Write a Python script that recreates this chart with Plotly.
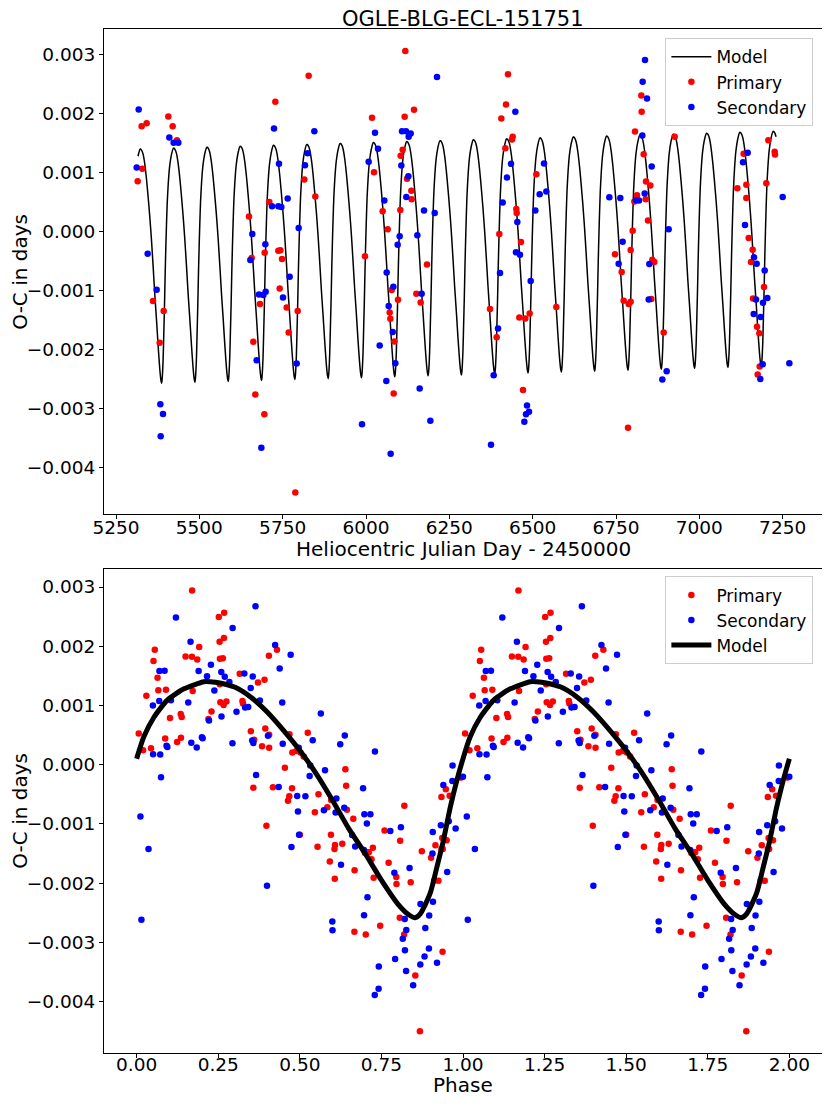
import numpy as np
import plotly.graph_objects as go

prim_hjd = [5327, 5342, 5329, 5315, 5361, 5393, 5381, 5407, 5420, 5433, 5649, 5657, 5696, 5682,
            5662, 5668, 5695, 5728, 5710, 5737, 5743, 5748, 5741, 5762, 5768, 5788, 5795, 5815,
            5828, 5848, 5997, 6018, 6024, 6050, 6065, 6071, 6073, 6077, 6085, 6083, 6096, 6103,
            6104, 6110, 6116, 6118, 6123, 6136, 6137, 6144, 6151, 6164, 6183, 6372, 6392, 6400,
            6406, 6418, 6420, 6426, 6438, 6440, 6451, 6452, 6465, 6460, 6471, 6478, 6491, 6511,
            6571, 6826, 6827, 6807, 6833, 6840, 6853, 6813, 6805, 6839, 6846, 6800, 6794, 6747,
            6767, 6773, 6788, 6794, 6859, 6865, 6856, 6893, 6786, 6926, 7133, 7114, 7141, 7141,
            7148, 7160, 7155, 7161, 7173, 7180, 7181, 7175, 7194, 7201, 7207, 7226, 7227]
prim_oc = [1.791, 1.842, 1.066, 0.856, -1.179, -1.349, -1.888, 1.956, 1.791, 1.553, 0.255, -0.448,
           -0.357, -1.230, -1.871, -2.766, -3.101, 2.205, 0.505, -0.323, -0.317, -0.465, -0.964,
           -1.287, -1.712, -4.427, -1.349, 0.884, 2.647, 0.595, -0.420, 1.933, 1.009, 0.346, 0.040,
           -1.372, -1.480, -0.992, -1.865, -2.749, -1.156, 0.368, 1.287, 1.389, 1.950, 3.067, 0.896,
           0.692, 0.550, 2.069, -1.054, -1.202, -0.556, -1.315, -1.791, -0.040, 1.922, 1.417, 2.160,
           2.670, 1.565, 1.610, 0.385, 0.317, -0.176, -1.457, -2.687, -1.474, -1.389, 0.975, -1.281,
           2.313, 2.035, 1.701, 1.315, 0.850, 0.782, 0.618, 0.510, 0.550, 0.187, 0.017, -0.312,
           -0.385, -0.686, -1.173, -1.230, -1.190, -0.476, -0.516, -1.145, -1.712, -3.328, 1.610,
           1.321, 0.737, 0.794, 0.573, -0.108, -0.306, -0.516, -1.134, -1.616, -1.723, -2.290,
           -2.426, -0.941, 0.822, 1.553, 1.355, 1.310]

sec_hjd = [5318, 5312, 5345, 5372, 5383, 5391, 5384, 5410, 5423, 5437, 5659, 5653, 5698, 5679,
           5692, 5699, 5672, 5686, 5724, 5739, 5718, 5737, 5746, 5765, 5771, 5751, 5798, 5792,
           5817, 5825, 5845, 5988, 6008, 6027, 6036, 6055, 6041, 6062, 6061, 6068, 6074, 6080,
           6082, 6088, 6095, 6101, 6106, 6108, 6120, 6121, 6127, 6128, 6134, 6154, 6161, 6167,
           6174, 6193, 6206, 6213, 6375, 6383, 6396, 6402, 6410, 6423, 6435, 6448, 6454, 6450,
           6462, 6475, 6480, 6483, 6489, 6494, 6508, 6521, 6534, 6541, 6837, 6830, 6843, 6829,
           6857, 6836, 6810, 6819, 6730, 6763, 6770, 6758, 6850, 6848, 6908, 6902, 6889, 7145,
           7131, 7137, 7164, 7172, 7196, 7170, 7204, 7191, 7163, 7184, 7190, 7183, 7250, 7270]
sec_oc = [2.075, 1.088, -0.374, -0.986, -2.931, -3.095, -3.475, 1.599, 1.508, 1.508, -0.040, -0.482,
          -0.215, -1.066, -1.077, -1.020, -2.183, -3.668, 1.752, 1.151, 0.431, 0.431, 0.419, 0.561,
          -0.765, -1.117, 0.062, -2.239, 1.128, 1.332, 1.706, -3.271, 1.185, 1.678, 1.406, 0.527,
          -1.933, -0.692, -2.534, -1.264, -3.770, -1.706, -0.935, -2.234, -0.221, -0.079, 1.122,
          1.706, 1.706, 0.590, 0.941, 1.610, 1.667, -0.062, -2.664, -1.054, 0.357, -3.209, 0.317,
          2.625, -3.617, -2.438, -1.644, -0.703, 0.493, 0.918, 1.151, 2.035, 0.164, -0.351, -0.391,
          -3.226, -3.101, -2.953, -3.056, -0.839, 0.357, 0.635, 1.156, 0.680, 2.914, 2.545, 2.262,
          1.633, 1.105, 0.646, 0.533, 0.527, 0.584, 0.573, -0.170, -0.544, -0.550, -1.151, 0.040,
          -2.370, -2.511, 1.338, 1.179, 0.113, -0.437, -0.544, -0.658, -1.151, -1.128, -1.207,
          -1.400, -1.451, -2.251, -2.500, 0.590, -2.234]

# model shape over one cycle (0.001 d)
model_phase = [0.000, 0.022, 0.053, 0.094, 0.145, 0.206, 0.225, 0.255, 0.300, 0.350, 0.400, 0.450,
               0.500, 0.550, 0.600, 0.650, 0.700, 0.750, 0.800, 0.835, 0.853, 0.869, 0.899, 0.920,
               0.940, 0.961, 0.981]
model_oc = [0.10, 0.47, 0.80, 1.09, 1.28, 1.40, 1.40, 1.38, 1.31, 1.14, 0.89, 0.58,
            0.24, -0.15, -0.60, -1.08, -1.50, -1.95, -2.35, -2.54, -2.585, -2.52, -2.18, -1.73,
            -1.28, -0.72, -0.27]

# ephemeris and slow drift
T0 = 5301.5
PERIOD = 99.94
DRIFT = 0.000158      # 0.001 d per day
T_DRIFT = 5320.0
T_START, T_END = 5315, 7231

FONT = "DejaVu Sans"


def drift(t):
    return DRIFT * (np.asarray(t, float) - T_DRIFT)


def fold(t):
    return ((np.asarray(t, float) - T0) / PERIOD) % 1.0


mph = np.array(model_phase + [1.0])
moc = np.array(model_oc + [model_oc[0]])

# model over the time series
cyc = np.arange(-1, 21)
t_mod = (T0 + (cyc[:, None] + mph[None, :-1]) * PERIOD).ravel()
v_mod = np.tile(moc[:-1], len(cyc)) + drift(t_mod)
keep = (t_mod >= T_START) & (t_mod <= T_END)
t_mod, v_mod = t_mod[keep], v_mod[keep]

# phase-folded, drift removed
p_ph = fold(prim_hjd)
p_v = np.array(prim_oc) - drift(prim_hjd)
s_ph = fold(sec_hjd)
s_v = np.array(sec_oc) - drift(sec_hjd)

fig = go.Figure()

fig.add_trace(go.Scatter(x=t_mod, y=v_mod * 1e-3, mode="lines", name="Model",
                         line=dict(color="black", width=1.5, shape="spline", smoothing=0.6),
                         xaxis="x", yaxis="y", legend="legend"))
fig.add_trace(go.Scatter(x=prim_hjd, y=np.array(prim_oc) * 1e-3, mode="markers", name="Primary",
                         marker=dict(color="red", size=6.5), xaxis="x", yaxis="y", legend="legend"))
fig.add_trace(go.Scatter(x=sec_hjd, y=np.array(sec_oc) * 1e-3, mode="markers", name="Secondary",
                         marker=dict(color="blue", size=6.5), xaxis="x", yaxis="y", legend="legend"))

fig.add_trace(go.Scatter(x=np.concatenate([p_ph, p_ph + 1]), y=np.concatenate([p_v, p_v]) * 1e-3,
                         mode="markers", name="Primary", marker=dict(color="red", size=6.5),
                         xaxis="x2", yaxis="y2", legend="legend2"))
fig.add_trace(go.Scatter(x=np.concatenate([s_ph, s_ph + 1]), y=np.concatenate([s_v, s_v]) * 1e-3,
                         mode="markers", name="Secondary", marker=dict(color="blue", size=6.5),
                         xaxis="x2", yaxis="y2", legend="legend2"))
fig.add_trace(go.Scatter(x=np.concatenate([mph, mph[1:] + 1]), y=np.concatenate([moc, moc[1:]]) * 1e-3,
                         mode="lines", name="Model",
                         line=dict(color="black", width=5, shape="spline", smoothing=0.6),
                         xaxis="x2", yaxis="y2", legend="legend2"))

axis_style = dict(showline=True, linecolor="black", linewidth=1, mirror=True, ticks="outside",
                  ticklen=4, tickcolor="black", showgrid=False, zeroline=False, automargin=False,
                  tickfont=dict(family=FONT, size=18.5, color="black"))
leg_style = dict(xanchor="right", yanchor="top", bgcolor="rgba(255,255,255,0.8)",
                 bordercolor="#cccccc", borderwidth=1, font=dict(family=FONT, size=17, color="black"),
                 tracegroupgap=0, itemwidth=40)
yticks = [-0.004, -0.003, -0.002, -0.001, 0, 0.001, 0.002, 0.003]


def label(text, x, y, angle=0, size=20, xshift=0, yshift=0):
    return dict(text=text, xref="paper", yref="paper", x=x, y=y, xanchor="center",
                yanchor="middle", showarrow=False, textangle=angle, xshift=xshift, yshift=yshift,
                font=dict(family=FONT, size=size, color="black"))


fig.update_layout(
    width=822, height=1099, plot_bgcolor="white", paper_bgcolor="white",
    margin=dict(l=96, r=8, t=21, b=54, autoexpand=False),
    font=dict(family=FONT, color="black"),
    xaxis=dict(axis_style, domain=[0, 1], anchor="y", range=[5214, 7368],
               tickvals=list(range(5250, 7251, 250)), ticklabelstandoff=-8),
    yaxis=dict(axis_style, domain=[0.526, 1], anchor="x", range=[-0.00480, 0.00344],
               tickvals=yticks, tickformat=".3f"),
    xaxis2=dict(axis_style, domain=[0, 1], anchor="y2", range=[-0.1, 2.1],
                tickvals=[0, 0.25, 0.5, 0.75, 1.0, 1.25, 1.5, 1.75, 2.0], tickformat=".2f",
                ticklabelstandoff=-9),
    yaxis2=dict(axis_style, domain=[0, 0.473], anchor="x2", range=[-0.00487, 0.00331],
                tickvals=yticks, tickformat=".3f"),
    legend=dict(leg_style, x=0.988, y=0.991),
    legend2=dict(leg_style, x=0.988, y=0.4655),
    annotations=[
        label("OGLE-BLG-ECL-151751", 0.5, 1.0, size=21, yshift=10),
        label("Heliocentric Julian Day - 2450000", 0.5, 0.492),
        label("Phase", 0.5, -0.0296, yshift=-2),
        label("O-C in days", -0.1198, 0.763, angle=-90, xshift=2),
        label("O-C in days", -0.1198, 0.2366, angle=-90, xshift=2),
    ],
)

fig.write_html("out.html")
